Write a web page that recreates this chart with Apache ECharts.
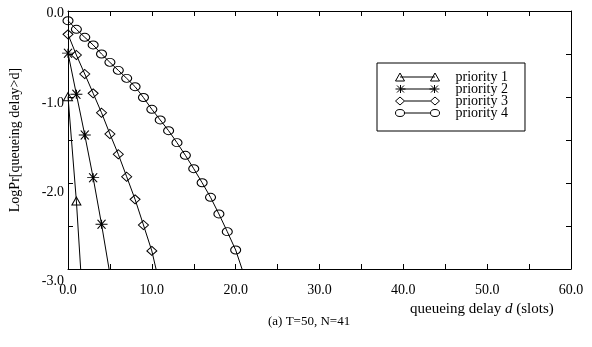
<!DOCTYPE html>
<html>
<head>
<meta charset="utf-8">
<script src="https://cdn.jsdelivr.net/npm/echarts@6/dist/echarts.min.js"></script>
<style>
html,body{margin:0;padding:0;background:#fff;}
#chart{width:592px;height:347px;}
</style>
</head>
<body>
<div id="chart"></div>
<script>
// ---- data ----
const delays1 = [0, 1, 2];
const logPr1 = [-0.996, -2.21, -3.76];
const delays2 = [0, 1, 2, 3, 4, 5];
const logPr2 = [-0.49, -0.968, -1.442, -1.938, -2.48, -3.06];
const delays3 = [0, 1, 2, 3, 4, 5, 6, 7, 8, 9, 10, 11];
const logPr3 = [-0.271, -0.512, -0.733, -0.957, -1.183, -1.43, -1.666, -1.927, -2.19, -2.488, -2.79, -3.21];
const delays4 = [0, 1, 2, 3, 4, 5, 6, 7, 8, 9, 10, 11, 12, 13, 14, 15, 16, 17, 18, 19, 20, 21];
const logPr4 = [-0.113, -0.213, -0.306, -0.395, -0.5, -0.597, -0.69, -0.783, -0.88, -1.006, -1.143, -1.267, -1.392, -1.531, -1.678, -1.834, -1.997, -2.166, -2.36, -2.566, -2.779, -3.07];
const seriesNames = ['priority 1', 'priority 2', 'priority 3', 'priority 4'];
const xTickLabels = ['0.0', '10.0', '20.0', '30.0', '40.0', '50.0', '60.0'];
const yTickLabels = ['0.0', '-1.0', '-2.0', '-3.0'];
const xTitle = 'queueing delay {i|d} (slots)';
const yTitle = 'LogPr[queueing delay>d]';
const caption = '(a) T=50, N=41';

// ---- styling ----
const FONT = '"Liberation Serif", "Times New Roman", serif';
const symTri = 'path://M0,8L4.5,0L9,8Z';
const symStar = 'path://M0,4.5L12,4.5M6,0L6,9M2,0L10,9M2,9L10,0';
const symDia = 'path://M5,0L10,4.5L5,9L0,4.5Z';
const symEll = 'path://M0,4A5,4,0,1,1,10,4A5,4,0,1,1,0,4Z';
const seriesSymbols = [symTri, symStar, symDia, symEll];
const seriesSymbolSizes = [[9, 8], [12, 9], [10, 9], [10, 8]];

const BB = 'M0,0M55,10';
const legendIcons = [
  'path://' + BB + 'M0,9L4.5,1L9,9ZM4.5,5L39.5,5M35,9L39.5,1L44,9Z',
  'path://' + BB + 'M0,5L10,5M5,1L5,9M1.5,1.5L8.5,8.5M1.5,8.5L8.5,1.5M5,5L39,5M34,5L44,5M39,1L39,9M35.5,1.5L42.5,8.5M35.5,8.5L42.5,1.5',
  'path://' + BB + 'M0,5L4.5,1L9,5L4.5,9ZM9,5L35,5M35,5L39.5,1L44,5L39.5,9Z',
  'path://' + BB + 'M0,5A4.5,3.5,0,1,1,9,5A4.5,3.5,0,1,1,0,5ZM9,5L35,5M35,5A4.5,3.5,0,1,1,44,5A4.5,3.5,0,1,1,35,5Z'
];

const allX = [delays1, delays2, delays3, delays4];
const allY = [logPr1, logPr2, logPr3, logPr4];

const series = seriesNames.map((name, i) => ({
  name: name,
  type: 'line',
  data: allX[i].map((d, j) => [d, allY[i][j]]),
  symbol: seriesSymbols[i],
  symbolSize: seriesSymbolSizes[i],
  showAllSymbol: true,
  clip: true,
  lineStyle: { color: '#000', width: 1 },
  itemStyle: { color: 'rgba(0,0,0,0)', borderColor: '#000', borderWidth: 1 },
  emphasis: { disabled: true },
  animation: false,
  z: 3
}));

const yPad = { '0': 4, '-1': 12, '-2': 18, '-3': 24 };
const yRich = {};
yTickLabels.forEach((t, k) => {
  yRich['l' + k] = { fontFamily: FONT, fontSize: 14, color: '#000', padding: [yPad[String(-k)], 0, 0, 0] };
});

function axisCommon() {
  return {
    axisLine: { show: true, onZero: false, lineStyle: { color: '#000', width: 1 } },
    axisTick: { show: true, inside: true, length: 5, lineStyle: { color: '#000', width: 1 } },
    splitLine: { show: false }
  };
}

const option = {
  animation: false,
  backgroundColor: '#fff',
  grid: { left: 67, right: 21, top: 11, bottom: 78, containLabel: false },
  title: [
    {
      text: xTitle, left: 410, top: 302,
      textStyle: { fontFamily: FONT, fontSize: 15, fontWeight: 'normal', color: '#000',
        rich: { i: { fontFamily: FONT, fontSize: 15, fontStyle: 'italic', color: '#000' } } },
      padding: 0
    },
    {
      text: caption, left: 268, top: 315,
      textStyle: { fontFamily: FONT, fontSize: 13, fontWeight: 'normal', color: '#000' },
      padding: 0
    }
  ],
  legend: {
    orient: 'vertical',
    left: 377, top: 63,
    padding: [7, 17, 11, 18],
    borderColor: '#000', borderWidth: 1,
    itemWidth: 55, itemHeight: 10, itemGap: -2,
    selectedMode: false,
    data: seriesNames.map((n, i) => ({ name: n, icon: legendIcons[i] })),
    itemStyle: { color: 'rgba(0,0,0,0)', borderColor: '#000', borderWidth: 1 },
    lineStyle: { color: '#000', width: 1 },
    textStyle: { fontFamily: FONT, fontSize: 14, color: '#000' }
  },
  xAxis: [
    Object.assign(axisCommon(), {
      type: 'value', min: 0, max: 60, interval: 5, position: 'bottom',
      axisLabel: {
        show: true, margin: 14, fontFamily: FONT, fontSize: 14, color: '#000',
        formatter: v => (v % 10 === 0 ? xTickLabels[v / 10] : '')
      }
    }),
    Object.assign(axisCommon(), {
      type: 'value', min: 0, max: 60, interval: 5, position: 'top',
      axisLabel: { show: false }
    })
  ],
  yAxis: [
    Object.assign(axisCommon(), {
      type: 'value', min: -3, max: 0, interval: 0.5, position: 'left',
      name: yTitle, nameLocation: 'middle', nameGap: 46,
      nameTextStyle: { fontFamily: FONT, fontSize: 14, color: '#000' },
      axisLabel: {
        show: true, margin: 4, fontFamily: FONT, fontSize: 14, color: '#000',
        formatter: v => {
          if (Math.abs(v - Math.round(v)) > 1e-6) return '';
          const k = -Math.round(v);
          return '{l' + k + '|' + yTickLabels[k] + '}';
        },
        rich: yRich
      }
    }),
    Object.assign(axisCommon(), {
      type: 'value', min: -3, max: 0, interval: 0.5, position: 'right',
      axisLabel: { show: false }
    })
  ],
  series: series
};

const chart = echarts.init(document.getElementById('chart'), null, { renderer: 'canvas' });
chart.setOption(option);
</script>
</body>
</html>
